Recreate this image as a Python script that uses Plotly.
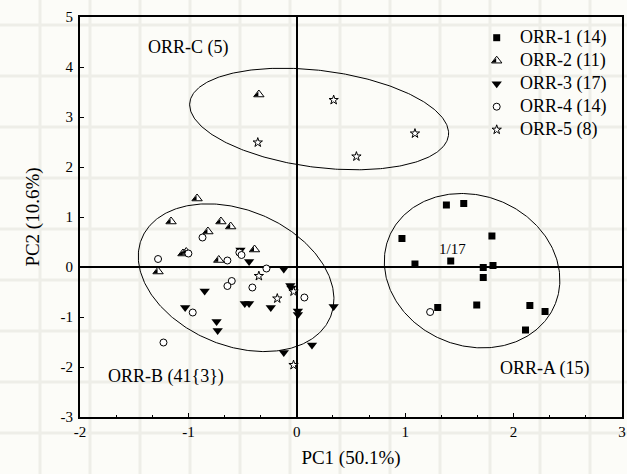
import numpy as np
import plotly.graph_objects as go

# ---------------- data ----------------
orr1_x = [1.38, 1.54, 0.97, 1.80, 1.09, 1.42, 1.72, 1.81, 1.72, 1.30, 1.66, 2.15, 2.29, 2.11]
orr1_y = [1.24, 1.27, 0.57, 0.62, 0.06, 0.12, -0.01, 0.03, -0.21, -0.81, -0.76, -0.77, -0.89, -1.26]

orr2_x = [-0.92, -1.16, -0.70, -0.61, -0.82, -1.05, -1.02, -0.39, -0.72, -1.28, -0.35]
orr2_y = [1.37, 0.91, 0.91, 0.81, 0.71, 0.27, 0.30, 0.35, 0.14, -0.09, 3.45]

orr3_x = [-0.52, -0.44, -0.12, -0.85, -0.06, -1.03, -0.48, -0.44, -0.24, 0.01, 0.01, 0.34,
          -0.74, -0.73, 0.14, -0.12, -0.05]
orr3_y = [0.34, 0.11, -0.04, -0.48, -0.37, -0.81, -0.73, -0.73, -0.81, -0.88, -0.95, -0.79,
          -1.09, -1.27, -1.56, -1.71, -0.42]

orr4_x = [-1.28, -0.87, -1.00, -0.64, -0.53, -0.51, -0.28, -0.60, -0.64, -0.41, 0.07, -0.96, -1.23, 1.23]
orr4_y = [0.16, 0.59, 0.27, 0.13, 0.29, 0.24, -0.03, -0.28, -0.38, -0.41, -0.61, -0.91, -1.51, -0.90]

orr5_x = [-0.35, -0.18, -0.03, -0.03, 0.34, -0.36, 0.55, 1.09]
orr5_y = [-0.18, -0.63, -0.49, -1.96, 3.34, 2.49, 2.21, 2.67]

series_names = ["ORR-1 (14)", "ORR-2 (11)", "ORR-3 (17)", "ORR-4 (14)", "ORR-5 (8)"]

# group ellipses: centre (data units), semi-axes and tilt (display units)
ell_names = ["ORR-A (15)", "ORR-B (41{3})", "ORR-C (5)"]
ell_cx = [1.617, -0.56, 0.206]
ell_cy = [-0.074, -0.214, 2.96]
ell_a_px = [89.6, 102.2, 130.4]
ell_b_px = [75.1, 67.7, 48.4]
ell_tilt_deg = [21.5, 22.7, 7.3]
ell_label_x = [2.29, -1.21, -1.0]
ell_label_y = [-2.03, -2.18, 4.4]

x_ticks = [-2, -1, 0, 1, 2, 3]
y_ticks = [-3, -2, -1, 0, 1, 2, 3, 4, 5]

# ---------------- layout geometry ----------------
W, H = 627, 474
ML, MR, MT, MB = 80, 5, 17, 57
PW, PH = W - ML - MR, H - MT - MB
SX = PW / (x_ticks[-1] - x_ticks[0])   # px per x unit
SY = PH / (y_ticks[-1] - y_ticks[0])   # px per y unit

FONT = "Liberation Serif"

# marker styles per series
styles = [
    dict(symbol="square", size=7, color="black", line=dict(width=0)),
    dict(symbol="triangle-up", size=9, color="white", line=dict(color="black", width=1)),
    dict(symbol="triangle-down", size=9, color="black", line=dict(width=0)),
    dict(symbol="circle", size=7, color="white", line=dict(color="black", width=1)),
    dict(symbol="star", size=7, color="white", line=dict(color="black", width=1)),
]
TRI = 9       # size of the half-filled triangle
HALF = 5      # size of its black left half (triangle-se)
HALF_DX = -0.8 * HALF / 2                 # px shift of the half, right angle at centre line
HALF_DY = -(TRI / 4 - 0.8 * HALF / 2)     # px shift (upwards positive)

fig = go.Figure()

# ellipses
t = np.linspace(0, 2 * np.pi, 361)
for cx, cy, a, b, ang in zip(ell_cx, ell_cy, ell_a_px, ell_b_px, ell_tilt_deg):
    phi = np.deg2rad(ang)
    dxp = a * np.cos(t) * np.cos(phi) - b * np.sin(t) * np.sin(phi)
    dyp = a * np.cos(t) * np.sin(phi) + b * np.sin(t) * np.cos(phi)
    fig.add_trace(go.Scatter(x=cx + dxp / SX, y=cy - dyp / SY, mode="lines",
                             line=dict(color="black", width=1), showlegend=False,
                             hoverinfo="skip"))

xs = [orr1_x, orr2_x, orr3_x, orr4_x, orr5_x]
ys = [orr1_y, orr2_y, orr3_y, orr4_y, orr5_y]
for i, (xv, yv) in enumerate(zip(xs, ys)):
    fig.add_trace(go.Scatter(x=xv, y=yv, mode="markers", name=series_names[i],
                             marker=styles[i], showlegend=False))
    if i == 1:
        fig.add_trace(go.Scatter(x=[v + HALF_DX / SX for v in xv],
                                 y=[v + HALF_DY / SY for v in yv],
                                 mode="markers", showlegend=False, hoverinfo="skip",
                                 marker=dict(symbol="triangle-se", size=HALF, color="black",
                                             line=dict(width=0))))

# legend drawn on an overlay axis in paper-like units (0..1)
LEG_MX = (496.7 - ML) / PW
LEG_TX = (518 - ML) / PW
LEG_Y0 = 1 - (37.7 - MT) / PH
LEG_DY = 23.0 / PH
leg_y = [LEG_Y0 - k * LEG_DY for k in range(len(series_names))]
ann = []
for i, name in enumerate(series_names):
    fig.add_trace(go.Scatter(x=[LEG_MX], y=[leg_y[i]], mode="markers", marker=styles[i],
                             xaxis="x2", yaxis="y2", showlegend=False, hoverinfo="skip"))
    if i == 1:
        fig.add_trace(go.Scatter(x=[LEG_MX + HALF_DX / PW], y=[leg_y[i] + HALF_DY / PH],
                                 mode="markers", xaxis="x2", yaxis="y2",
                                 showlegend=False, hoverinfo="skip",
                                 marker=dict(symbol="triangle-se", size=HALF, color="black",
                                             line=dict(width=0))))
    ann.append(dict(xref="paper", yref="paper", x=LEG_TX, y=leg_y[i], text=name,
                    xanchor="left", yanchor="middle", showarrow=False,
                    font=dict(family=FONT, size=18, color="black")))

# paper texture grid (faint), positions in page pixels
shapes = []
for px in range(40, W, 50):
    xp = (px - ML) / PW
    shapes.append(dict(type="line", xref="paper", yref="paper",
                       x0=xp, x1=xp, y0=-MB / PH, y1=1 + MT / PH, layer="below",
                       line=dict(color="#EEEEE8", width=3)))
for py in range(25, H, 51):
    yp = (H - MB - py) / PH
    shapes.append(dict(type="line", xref="paper", yref="paper",
                       x0=-ML / PW, x1=1 + MR / PW, y0=yp, y1=yp, layer="below",
                       line=dict(color="#EEEEE8", width=3)))

for name, ax, ay in zip(ell_names, ell_label_x, ell_label_y):
    ann.append(dict(x=ax, y=ay, text=name, showarrow=False,
                    font=dict(family=FONT, size=18, color="black")))
ann.append(dict(x=1.44, y=0.36, text="1/17", showarrow=False,
                font=dict(family=FONT, size=15, color="black")))

axis_common = dict(showgrid=False, zeroline=True, zerolinecolor="black", zerolinewidth=2,
                   showline=True, linecolor="black", linewidth=2, mirror=True,
                   ticks="inside", ticklen=4, tickwidth=1, tickcolor="black",
                   ticklabeloverflow="allow",
                   tickfont=dict(family=FONT, size=15, color="black"))

fig.update_layout(
    width=W, height=H,
    margin=dict(l=ML, r=MR, t=MT, b=MB, autoexpand=False),
    paper_bgcolor="#FCFCF8", plot_bgcolor="#FCFCF8",
    font=dict(family=FONT, color="black"),
    shapes=shapes, annotations=ann,
    showlegend=False,
    xaxis=dict(range=[x_ticks[0], x_ticks[-1]], tickvals=x_ticks,
               ticktext=[str(v) for v in x_ticks],
               minor=dict(dtick=1 / 3, tick0=-2, ticks="inside", ticklen=2, tickcolor="black"),
               title=dict(text="PC1 (50.1%)", font=dict(family=FONT, size=19), standoff=12),
               ticklabelstandoff=0, **axis_common),
    yaxis=dict(range=[y_ticks[0], y_ticks[-1]], tickvals=y_ticks,
               ticktext=[str(v) for v in y_ticks],
               title=dict(text="PC2 (10.6%)", font=dict(family=FONT, size=19), standoff=16),
               ticklabelstandoff=2, **axis_common),
    xaxis2=dict(range=[0, 1], overlaying="x", visible=False, fixedrange=True),
    yaxis2=dict(range=[0, 1], overlaying="y", visible=False, fixedrange=True),
)

fig.write_html("out.html",
               config={"displayModeBar": False},
               post_script="document.body.style.margin='0';document.body.style.overflow='hidden';")
